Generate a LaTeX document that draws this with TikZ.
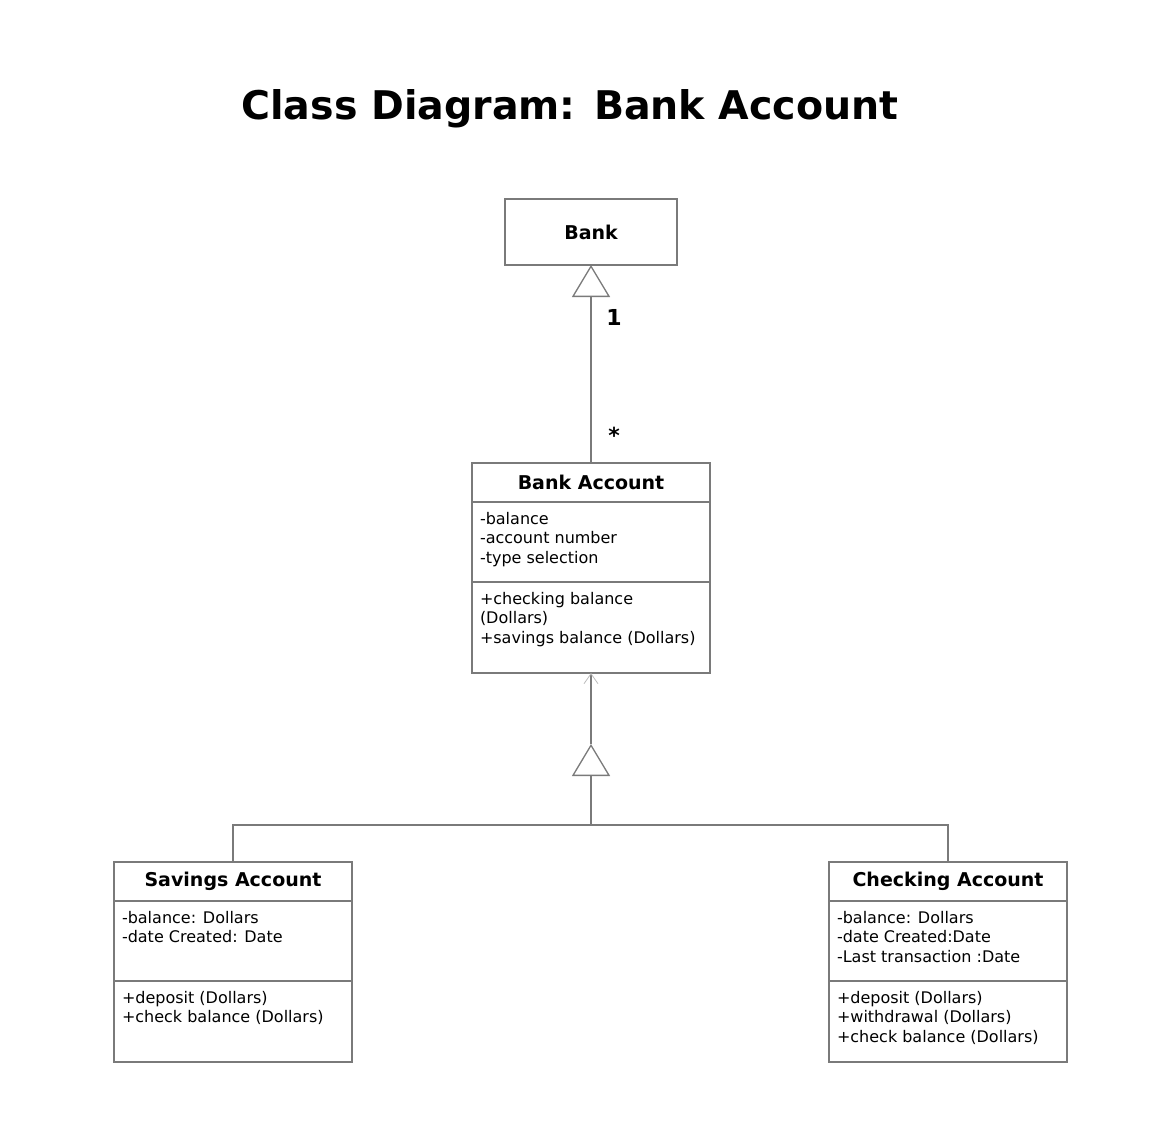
\documentclass[tikz,border=0pt]{standalone}
\usepackage{fontspec}
\setmainfont{DejaVu Sans}
\usetikzlibrary{arrows.meta,positioning}
\definecolor{linegray}{HTML}{7A7A7A}
\newcommand{\cbody}[2]{\parbox[t][#1][t]{222pt}{\raggedright #2}}
\tikzset{
  classbox/.style={draw=linegray, line width=1.3pt, fill=white, minimum width=238pt, minimum height=39pt, inner sep=0pt, outer sep=0pt, font=\bfseries\fontsize{19}{22}\selectfont},
  compart/.style={draw=linegray, line width=1.3pt, fill=white, minimum width=238pt, inner xsep=8pt, inner ysep=10pt, outer sep=0pt, font=\fontsize{16}{19.6}\selectfont},
  assoc/.style={draw=linegray, line width=1.3pt},
  gentri/.style={-{Triangle[open, length=32pt, width=38pt, fill=white]}},
  mult/.style={anchor=base, font=\bfseries\fontsize{22}{24}\selectfont}
}

\begin{document}
\begin{tikzpicture}[x=1pt, y=-1pt]
\useasboundingbox (0,0) rectangle (1160,1130);
\node[anchor=base, font=\bfseries\fontsize{39.5}{44}\selectfont] (title) at (570,119) {Class Diagram: Bank Account};

% Bank
\node[classbox, minimum width=172pt, minimum height=66pt] (bank) at (591,232) {Bank};

% Bank Account
\node[classbox, anchor=north] (bahead) at (591,463) {Bank Account};
\node[compart, below=0pt of bahead] (baattr) {\cbody{60pt}{-balance\\-account number\\-type selection}};
\node[compart, below=0pt of baattr] (baops) {\cbody{71pt}{+checking balance\\(Dollars)\\+savings balance (Dollars)}};

% Savings Account
\node[classbox, anchor=north] (savhead) at (233,862) {Savings Account};
\node[compart, below=0pt of savhead] (savattr) {\cbody{60pt}{-balance: Dollars\\-date Created: Date}};
\node[compart, below=0pt of savattr] (savops) {\cbody{61pt}{+deposit (Dollars)\\+check balance (Dollars)}};

% Checking Account
\node[classbox, anchor=north] (chkhead) at (948,862) {Checking Account};
\node[compart, below=0pt of chkhead] (chkattr) {\cbody{60pt}{-balance: Dollars\\-date Created:Date\\-Last transaction :Date}};
\node[compart, below=0pt of chkattr] (chkops) {\cbody{61pt}{+deposit (Dollars)\\+withdrawal (Dollars)\\+check balance (Dollars)}};

% association
\draw[assoc, gentri] (bahead.north) -- (bank.south);
\node[mult] (mone) at (614,325) {1};
\node[mult] (mmany) at (614,443) {*};

% generalization
\coordinate (gentip) at (591,744);
\coordinate (genjoin) at (591,825);
\draw[assoc, gentri] (genjoin) -- (gentip);
\draw[assoc, -{Straight Barb[length=10pt, width=14pt, color=linegray!50, line width=.8pt]}] (gentip) -- (baops.south);
\draw[assoc] (savhead.north) |- (genjoin) -| (chkhead.north);
\end{tikzpicture}
\end{document}
